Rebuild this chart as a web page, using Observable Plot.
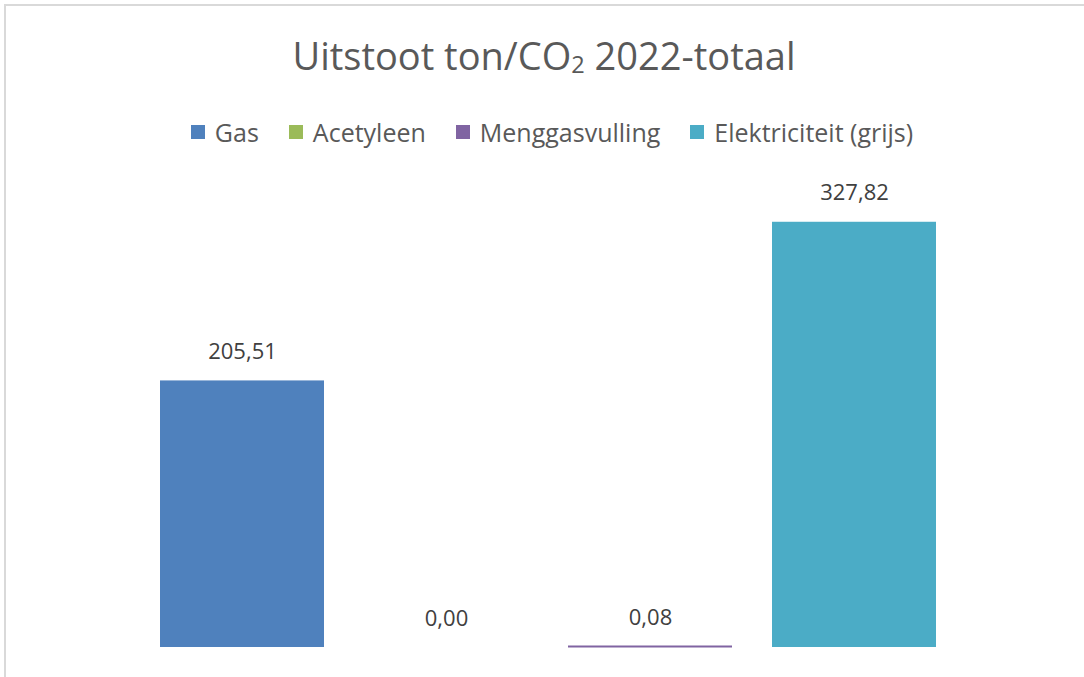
<!DOCTYPE html>
<html>
<head>
<meta charset="utf-8">
<script src="https://cdn.jsdelivr.net/npm/d3@7"></script>
<script src="https://cdn.jsdelivr.net/npm/@observablehq/plot@0.6"></script>
<style>
  html, body { margin: 0; padding: 0; background: #fff; overflow: hidden; width: 1084px; height: 677px; }
  #frame { position: absolute; left: 4px; top: 4px; width: 1200px; height: 800px; border-left: 2.5px solid #d9d9d9; border-top: 2.5px solid #d9d9d9; box-sizing: border-box; }
  #title { position: absolute; left: 2px; top: 35px; width: 1084px; text-align: center; font-family: "Open Sans", sans-serif; font-size: 38px; line-height: 40px; color: #595959; white-space: nowrap; }
  #title sub { font-size: 0.62em; vertical-align: -0.12em; line-height: 0; }
  #legend { position: absolute; left: 10px; top: 115px; width: 1084px; height: 34px; display: flex; justify-content: center; align-items: center; gap: 30px; font-family: "Open Sans", sans-serif; font-size: 25px; line-height: 34px; color: #595959; }
  .item { display: flex; align-items: center; gap: 10px; white-space: nowrap; }
  .swatch { width: 14px; height: 14px; display: inline-block; }
  #chart { position: absolute; left: 0; top: 150px; }
</style>
</head>
<body>
<div id="frame"></div>
<div id="title">Uitstoot ton/CO<sub>2</sub> 2022-totaal</div>
<div id="legend"></div>
<div id="chart"></div>
<script>
const categories = ["Gas", "Acetyleen", "Menggasvulling", "Elektriciteit (grijs)"];
const values = [205.51, 0.00, 0.08, 327.82];
const colors = ["#4F81BD", "#9BBB59", "#8064A2", "#4BACC6"];

const data = categories.map((c, i) => ({category: c, value: values[i]}));
const fmt = v => v.toFixed(2).replace(".", ",");

const legend = document.getElementById("legend");
categories.forEach((c, i) => {
  const item = document.createElement("div");
  item.className = "item";
  const sw = document.createElement("span");
  sw.className = "swatch";
  sw.style.background = colors[i];
  const label = document.createElement("span");
  label.textContent = c;
  item.appendChild(sw);
  item.appendChild(label);
  legend.appendChild(item);
});

const chart = Plot.plot({
  width: 1084,
  height: 527,
  marginLeft: 140,
  marginRight: 128,
  marginTop: 43,
  marginBottom: 30,
  x: {domain: categories, paddingInner: 0.195, paddingOuter: 0.0975, axis: null},
  y: {domain: [0, 350], axis: null},
  color: {domain: categories, range: colors},
  style: {background: "transparent", fontFamily: "Open Sans, sans-serif"},
  marks: [
    Plot.barY(data, {x: "category", y: "value", fill: "category"}),
    Plot.tickY(data.filter(d => d.value > 0 && d.value < 1), {x: "category", y: "value", stroke: "category", strokeWidth: 2, dy: -1}),
    Plot.text(data, {x: "category", y: "value", text: d => fmt(d.value), lineAnchor: "bottom", dy: -22, fontSize: 22, fill: "#404040"})
  ]
});
document.getElementById("chart").appendChild(chart);
</script>
</body>
</html>
